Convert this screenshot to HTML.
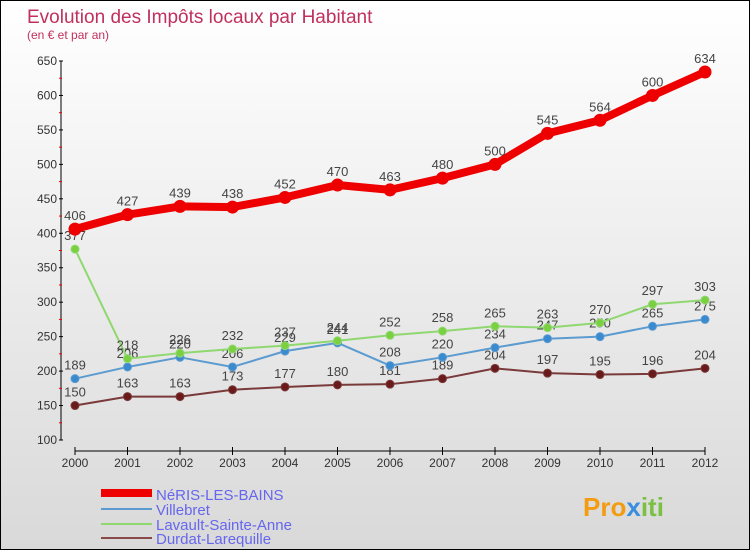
<!DOCTYPE html>
<html><head><meta charset="utf-8"><style>
html,body{margin:0;padding:0}
body{width:750px;height:550px;overflow:hidden;font-family:"Liberation Sans",sans-serif}
#wrap{position:relative;width:748px;height:548px;border:1px solid #000;background:linear-gradient(#fff,#d9d9d9)}
</style></head><body>
<div id="wrap">
<svg id="chart" width="748" height="548" font-family="Liberation Sans, sans-serif">
<text x="26" y="22" font-size="19" fill="#c0305e">Evolution des Impôts locaux par Habitant</text>
<text x="26" y="38" font-size="12" fill="#c0305e">(en € et par an)</text>
<g id="axes"></g><g id="series"></g>
<g>
<rect x="100" y="488" width="51" height="8" fill="#e00"/>
<text x="155" y="499" font-size="15" fill="#6666ee">NéRIS-LES-BAINS</text>
<line x1="100" y1="508" x2="151" y2="508" stroke="#5b9bd0" stroke-width="2"/>
<text x="155" y="514" font-size="15" fill="#6666ee">Villebret</text>
<line x1="100" y1="523" x2="151" y2="523" stroke="#8fd870" stroke-width="2"/>
<text x="155" y="529" font-size="15" fill="#6666ee">Lavault-Sainte-Anne</text>
<line x1="100" y1="537" x2="151" y2="537" stroke="#8a4a4a" stroke-width="2"/>
<text x="155" y="543" font-size="15" fill="#6666ee">Durdat-Larequille</text>
</g>
<text x="582" y="515" font-size="26" font-weight="bold" fill="#f39c12">Pro<tspan fill="#3a8ee0">x</tspan><tspan fill="#7ac043">iti</tspan></text>
</svg></div>
<script>
const years=[2000,2001,2002,2003,2004,2005,2006,2007,2008,2009,2010,2011,2012];
const yTicks=[100,150,200,250,300,350,400,450,500,550,600,650];
const neris=[406,427,439,438,452,470,463,480,500,545,564,600,634];
const villebret=[189,206,220,206,229,241,208,220,234,247,250,265,275];
const lavault=[377,218,226,232,237,244,252,258,265,263,270,297,303];
const durdat=[150,163,163,173,177,180,181,189,204,197,195,196,204];
const NS="http://www.w3.org/2000/svg";
function X(i){return 74+i*(630/(years.length-1));}
function Y(v){return 439-(v-100)*(379/550);}
function mk(t,a,p){const e=document.createElementNS(NS,t);for(const k in a)e.setAttribute(k,a[k]);p.appendChild(e);return e;}
const ax=document.getElementById('axes');
const yl=mk('line',{x1:60,y1:Y(650),x2:60,y2:Y(100),stroke:'#000','stroke-width':1},ax);


const xl=mk('line',{x1:X(0),y1:450,x2:X(12),y2:450,stroke:'#000','stroke-width':1},ax);


yTicks.forEach(v=>{
 mk('line',{x1:58,y1:Y(v),x2:62,y2:Y(v),stroke:'#000'},ax);
 if(v<650) mk('line',{x1:58,y1:Y(v+25),x2:61,y2:Y(v+25),stroke:'#e00'},ax);
 const t=mk('text',{x:56,y:Y(v)+4,'font-size':12,fill:'#333','text-anchor':'end'},ax);
 t.textContent=v;
 
 
});
years.forEach((y,i)=>{
 mk('line',{x1:X(i),y1:446,x2:X(i),y2:454,stroke:'#000'},ax);
 const t=mk('text',{x:X(i),y:466,'font-size':12,fill:'#333','text-anchor':'middle'},ax);
 t.textContent=y;
 
 
});
const sg=document.getElementById('series');
function draw(vals,color,w,r,name,dot){
 const g=mk('g',{},sg);
 
 
 const pl=mk('polyline',{points:vals.map((v,i)=>X(i)+','+Y(v)).join(' '),fill:'none',stroke:color,'stroke-width':w,'stroke-linejoin':'round'},g);
 
 
 vals.forEach((v,i)=>{
  const c=mk('circle',{cx:X(i),cy:Y(v),r:r,fill:dot,stroke:color,'stroke-width':1},g);
  
  
  const t=mk('text',{x:X(i),y:Y(v)-9,'font-size':13,fill:'#444','text-anchor':'middle'},g);
  t.textContent=v;
  
  
 });
}
draw(durdat,'#7a3a3a',2,4,'durdat','#6a1a1a');
draw(villebret,'#5b9bd0',2,4,'villebret','#3a8ad0');
draw(lavault,'#8fd870',2,4,'lavault','#7ad040');
draw(neris,'#e00',8,6,'neris','#e00');
</script>
</body></html>
